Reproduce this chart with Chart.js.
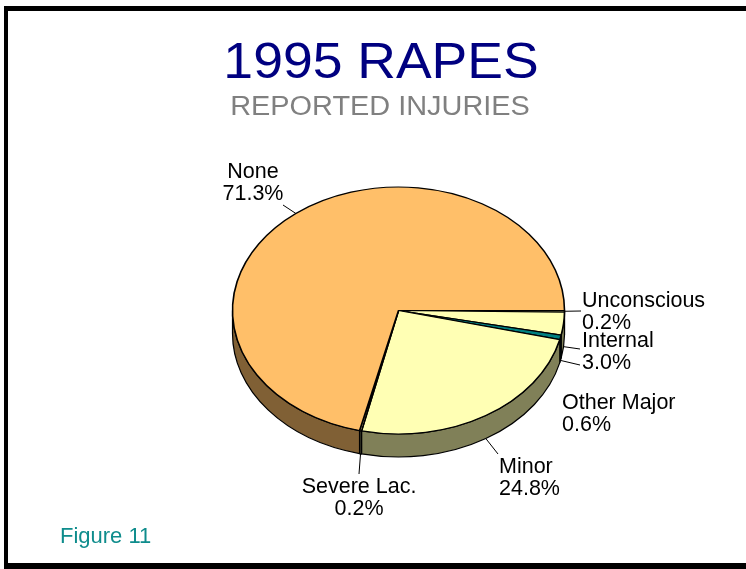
<!DOCTYPE html>
<html><head><meta charset="utf-8">
<script src="https://cdn.jsdelivr.net/npm/chart.js@4.4.1/dist/chart.umd.min.js"></script>
<style>html,body{margin:0;padding:0;background:#fff;} canvas{display:block;}</style>
</head><body>
<canvas id="c" width="746" height="569"></canvas>
<script>
// ---- data ----
const categories = ['Unconscious', 'Internal', 'Other Major', 'Minor', 'Severe Lac.', 'None'];
const percents = [0.2, 3.0, 0.6, 24.8, 0.2, 71.3];
const titleText = '1995 RAPES';
const subtitleText = 'REPORTED INJURIES';
const figureText = 'Figure 11';

// ---- styles / layout ----
const topColors  = ['#FFFFB4', '#FFFFB4', '#008080', '#FFFFB4', '#FFE8A8', '#FFBF69'];
const sideColors = ['#808058', '#808058', '#004040', '#808058', '#3C3C2C', '#806035'];
const TILT = 0.744, DEPTH = 23;
const FONT = '"Liberation Sans", Arial, sans-serif';
const labelLayout = [
  {x: 582, y: 307, align: 'left',   lx: 581, ly: 311},
  {x: 582, y: 347, align: 'left',   lx: 580, ly: 349},
  {x: 562, y: 409, align: 'left',   lx: 580, ly: 365},
  {x: 499, y: 473, align: 'left',   lx: 498, ly: 454},
  {x: 359, y: 493, align: 'center', lx: 359, ly: 474},
  {x: 253, y: 178, align: 'center', lx: 283, ly: 205}
];

function tilt(ctx, cy) { ctx.translate(0, cy); ctx.scale(1, TILT); ctx.translate(0, -cy); }

const pie3d = {
  id: 'pie3d',
  beforeDatasetsDraw(chart) {
    const ctx = chart.ctx;
    const meta = chart.getDatasetMeta(0);
    meta.data.forEach((el, i) => {
      const a0 = Math.max(el.startAngle, 0), a1 = Math.min(el.endAngle, Math.PI);
      if (a1 <= a0) return;
      ctx.save();
      tilt(ctx, el.y);
      ctx.beginPath();
      ctx.arc(el.x, el.y, el.outerRadius, a0, a1);
      ctx.arc(el.x, el.y + DEPTH / TILT, el.outerRadius, a1, a0, true);
      ctx.closePath();
      ctx.restore();
      ctx.fillStyle = sideColors[i];
      ctx.fill();
      ctx.lineWidth = 1.2; ctx.strokeStyle = '#000'; ctx.lineJoin = 'round';
      ctx.stroke();
    });
    ctx.save();
    tilt(ctx, meta.data[0].y);
  },
  afterDatasetsDraw(chart) { chart.ctx.restore(); },
  afterDraw(chart) {
    const ctx = chart.ctx;
    const meta = chart.getDatasetMeta(0);
    // leader lines + labels
    ctx.save();
    ctx.strokeStyle = '#000'; ctx.lineWidth = 1;
    ctx.fillStyle = '#000';
    ctx.font = '21.5px ' + FONT;
    ctx.textBaseline = 'alphabetic';
    meta.data.forEach((el, i) => {
      const L = labelLayout[i];
      const mid = (el.startAngle + el.endAngle) / 2;
      const px = el.x + el.outerRadius * Math.cos(mid);
      let py = el.y + el.outerRadius * Math.sin(mid) * TILT;
      if (Math.sin(mid) > 0.05) py += DEPTH;
      ctx.beginPath(); ctx.moveTo(px, py); ctx.lineTo(L.lx, L.ly); ctx.stroke();
      ctx.textAlign = L.align;
      ctx.fillText(categories[i], L.x, L.y);
      ctx.fillText(percents[i].toFixed(1) + '%', L.x, L.y + 22);
    });
    ctx.restore();
    // titles
    ctx.save();
    ctx.textAlign = 'center';
    ctx.fillStyle = '#000080';
    ctx.font = '50px ' + FONT;
    ctx.save(); ctx.translate(381, 78); ctx.scale(1.07, 1); ctx.fillText(titleText, 0, 0); ctx.restore();
    ctx.fillStyle = '#808080';
    ctx.font = '27px ' + FONT;
    ctx.save(); ctx.translate(380, 115); ctx.scale(1.07, 1); ctx.fillText(subtitleText, 0, 0); ctx.restore();
    ctx.textAlign = 'left';
    ctx.fillStyle = '#0E8C8C';
    ctx.font = '22px ' + FONT;
    ctx.fillText(figureText, 60, 543);
    // frame
    ctx.fillStyle = '#000';
    ctx.fillRect(4, 6, 742, 5);
    ctx.fillRect(4, 6, 4, 563);
    ctx.fillRect(4, 563, 742, 6);
    ctx.restore();
  }
};

new Chart(document.getElementById('c'), {
  type: 'pie',
  data: {
    labels: categories,
    datasets: [{
      data: percents,
      backgroundColor: topColors,
      borderColor: '#000',
      borderWidth: 1.6,
      hoverOffset: 0,
      offset: 0
    }]
  },
  options: {
    responsive: false,
    animation: false,
    devicePixelRatio: 1,
    events: [],
    rotation: 90,
    radius: 166,
    layout: {padding: {left: 232.5, right: 181.5, top: 144.5, bottom: 92.5}},
    plugins: {legend: {display: false}, tooltip: {enabled: false}, title: {display: false}}
  },
  plugins: [pie3d]
});
</script>
</body></html>
